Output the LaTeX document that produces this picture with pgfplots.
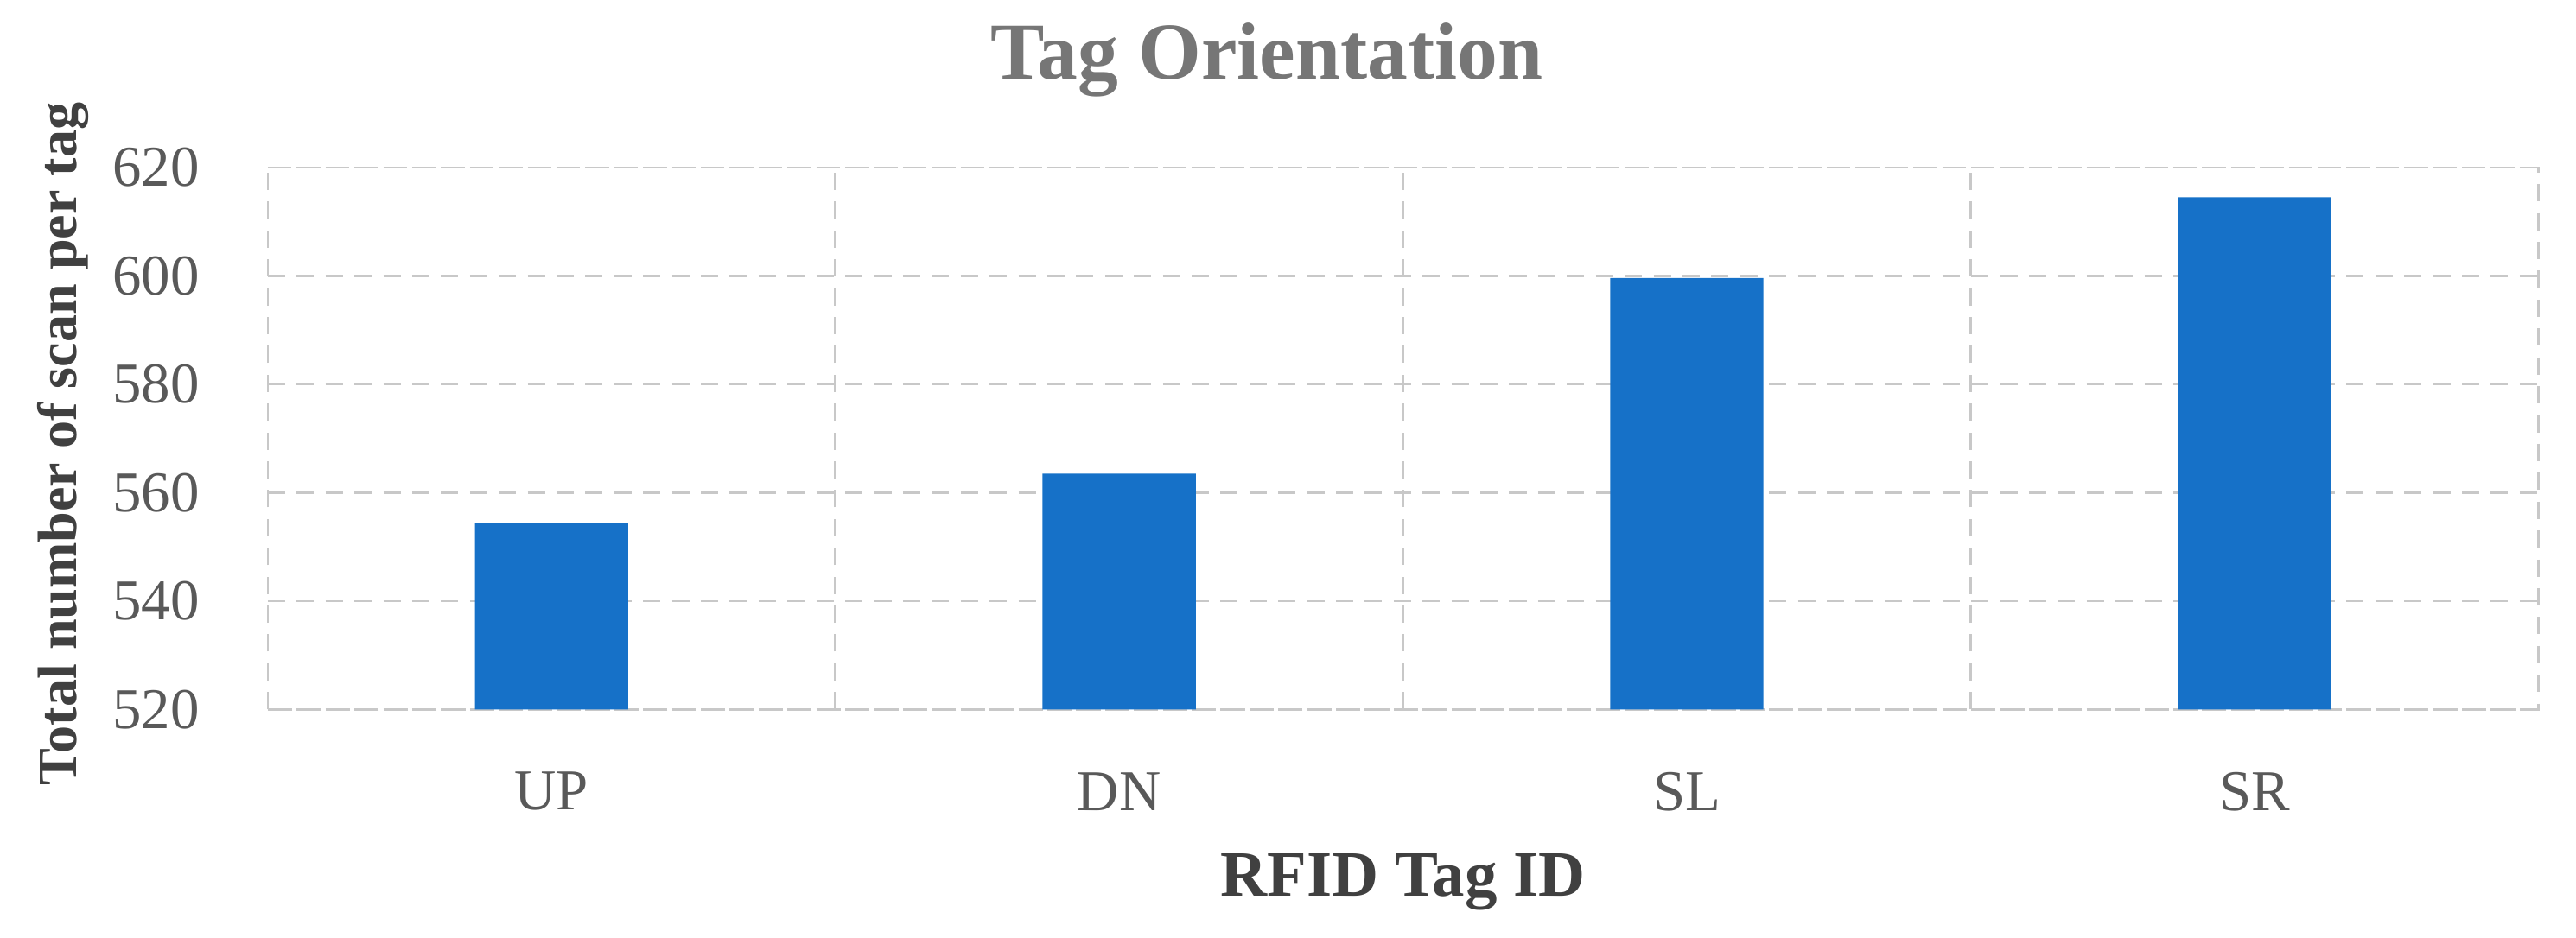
\documentclass[border=0pt]{standalone}
\usepackage{fontspec}
\setmainfont{Liberation Serif}
\usepackage{xcolor}
\usepackage{pgfplots}
\pgfplotsset{compat=1.18}

\definecolor{barblue}{RGB}{22,113,200}
\definecolor{gridgray}{RGB}{200,200,200}
\definecolor{ticktext}{RGB}{89,89,89}
\definecolor{labeltext}{RGB}{64,64,64}
\definecolor{titletext}{RGB}{118,118,118}

\begin{document}
\begin{tikzpicture}
\begin{axis}[
    scale only axis,
    width=13.82cm,
    height=3.30cm,
    ybar,
    bar width=0.27,
    xmin=-0.5, xmax=3.5,
    ymin=520, ymax=620,
    xtick={0,1,2,3},
    xticklabels={UP,DN,SL,SR},
    minor xtick={0.5,1.5,2.5},
    ytick={520,540,...,620},
    xminorgrids=true,
    xmajorgrids=false,
    ymajorgrids=true,
    major tick length=0pt,
    minor tick length=0pt,
    axis line style={gridgray, densely dashed},
    grid style={gridgray, densely dashed},
    minor grid style={gridgray, densely dashed},
    /pgf/number format/assume math mode=true,
    tick label style={font=\fontsize{10}{12}\selectfont, text=ticktext},
    yticklabel style={anchor=east, inner sep=0pt, xshift=-0.41cm},
    xticklabel style={anchor=center, inner sep=0pt, yshift=-0.5cm},
    title={Tag Orientation},
    title style={font=\fontsize{14}{16}\selectfont\bfseries, text=titletext,
        inner sep=0pt, at={(axis description cs:0.44,1.10)}, anchor=base},
    xlabel={RFID Tag ID},
    xlabel style={font=\fontsize{11.2}{13}\selectfont\bfseries, text=labeltext,
        inner sep=0pt, at={(axis description cs:0.5,-0.318)}, anchor=center},
    ylabel={Total number of scan per tag},
    ylabel style={font=\fontsize{9.6}{11}\selectfont\bfseries, text=labeltext,
        inner sep=0pt, at={(axis description cs:-0.090,0.49)}, anchor=center},
]
\addplot[fill=barblue, draw=none] coordinates {
    (0,554.4)
    (1,563.5)
    (2,599.6)
    (3,614.5)
};
\end{axis}
\path ([shift={(-1.63cm,-1.39cm)}]current axis.south west)
    rectangle ([shift={(0.23cm,1.02cm)}]current axis.north east);
\end{tikzpicture}
\end{document}
